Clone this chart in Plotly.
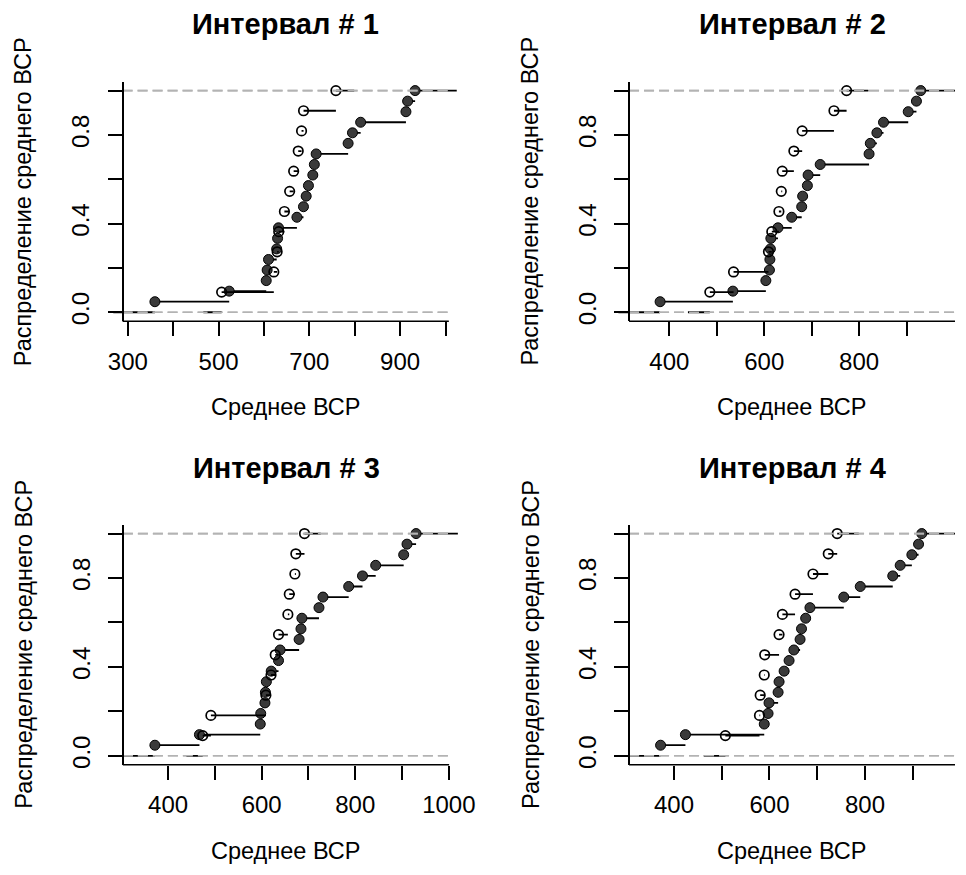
import numpy as np
import plotly.graph_objects as go

# ---------------- data ----------------
TITLES = ["Интервал # 1", "Интервал # 2", "Интервал # 3", "Интервал # 4"]
X_LABEL = "Среднее ВСР"
Y_LABEL = "Распределение среднего ВСР"

# filled points (first ECDF) and open points (second ECDF) per interval
int1_filled = [359.7, 523.4, 605, 607, 610, 628, 630, 632, 672.6, 687, 693, 698,
               707.6, 711, 715, 785.4, 795, 813, 912.8, 916.5, 933]
int1_open = [506.7, 621.7, 629, 632.5, 645, 656.6, 665.4, 675.5, 682.8, 687.2, 758.5]

int2_filled = [380.6, 534, 603.5, 611, 612, 613, 614, 629, 658, 679, 681, 691,
               692.5, 718, 821, 823.6, 837.5, 851.4, 903.5, 920.8, 929.9]
int2_open = [485.4, 535.4, 609, 616, 631, 636, 638, 662.5, 680, 747, 773.6]

int3_filled = [371.8, 467, 597, 598, 607, 608, 610, 620.4, 636, 639.4, 680, 684,
               686, 722.5, 731, 786, 815.5, 843.7, 903.5, 910.6, 930]
int3_open = [474, 491.5, 609, 620, 629, 636, 656, 659, 671, 673, 691.5]

int4_filled = [372, 424, 589, 597, 599, 618, 620, 630.6, 641, 651, 664, 667,
               675.7, 684.7, 755.5, 790, 858, 873.6, 898, 912, 918.8]
int4_open = [507.6, 579, 580.5, 589, 590, 620, 627, 653.5, 691, 723, 741.7]

int1_xticks = [300, 400, 500, 600, 700, 800, 900, 1000]
int1_xlabels = ["300", "", "500", "", "700", "", "900", ""]
int2_xticks = [400, 500, 600, 700, 800, 900]
int2_xlabels = ["400", "", "600", "", "800", ""]
int3_xticks = [400, 500, 600, 700, 800, 900, 1000]
int3_xlabels = ["400", "", "600", "", "800", "", "1000"]
int4_xticks = [400, 500, 600, 700, 800, 900]
int4_xlabels = ["400", "", "600", "", "800", ""]

y_ticks = [0.0, 0.2, 0.4, 0.6, 0.8, 1.0]
y_ticklabels = ["0.0", "", "0.4", "", "0.8", ""]

# ---------------- layout geometry (pixels) ----------------
W, H = 966, 875
BOX_W = 330
ROWS = {"top": (322.6, 82.1), "bottom": (768.2, 527.1)}  # px of y=-0.04 and y=1.04
PANELS = [
    dict(filled=int1_filled, opn=int1_open, xt=int1_xticks, xl=int1_xlabels,
         box_left=124.0, usr_l=288.5, scale=0.4591, row="top", dom=(98, 470)),
    dict(filled=int2_filled, opn=int2_open, xt=int2_xticks, xl=int2_xlabels,
         box_left=636.3, usr_l=315.2, scale=0.480, row="top", dom=(610, 966)),
    dict(filled=int3_filled, opn=int3_open, xt=int3_xticks, xl=int3_xlabels,
         box_left=124.3, usr_l=303.4, scale=0.4733, row="bottom", dom=(98, 470)),
    dict(filled=int4_filled, opn=int4_open, xt=int4_xticks, xl=int4_xlabels,
         box_left=636.3, usr_l=306.0, scale=0.4832, row="bottom", dom=(610, 966)),
]

FONT = "Liberation Sans, Arial, sans-serif"
TICK_SIZE = 24
LAB_SIZE = 23.5
TITLE_SIZE = 29
GRAY = "#b3b3b3"


def ecdf_parts(vals):
    xs = np.sort(np.asarray(vals, dtype=float))
    n = len(xs)
    ys = np.arange(1, n + 1) / n
    dr = max(0.08 * (xs[-1] - xs[0]), float(np.median(np.diff(xs))))
    left, right = xs[0] - 2 * dr, xs[-1] + 2 * dr
    sx, sy = [left, xs[0], None], [0, 0, None]
    for i in range(n):
        x_end = xs[i + 1] if i < n - 1 else right
        sx += [xs[i], x_end, None]
        sy += [ys[i], ys[i], None]
    return xs, ys, sx, sy


fig = go.Figure()
annotations = []
shapes = []

for k, p in enumerate(PANELS, start=1):
    xa = "x" if k == 1 else f"x{k}"
    ya = "y" if k == 1 else f"y{k}"
    usr_l = p["usr_l"]
    usr_r = usr_l + BOX_W / p["scale"]
    a, b = p["dom"]
    rng = [usr_l + (a - p["box_left"]) / p["scale"], usr_l + (b - p["box_left"]) / p["scale"]]
    yb_px, yt_px = ROWS[p["row"]]
    ydom = [1 - yb_px / H, 1 - yt_px / H]

    fx, fy, fsx, fsy = ecdf_parts(p["filled"])
    ox, oy, osx, osy = ecdf_parts(p["opn"])
    dash_x = [usr_l, usr_r, None, usr_l, usr_r]
    dash_y = [0, 0, None, 1, 1]

    common = dict(xaxis=xa, yaxis=ya, showlegend=False, hoverinfo="skip")
    fig.add_trace(go.Scatter(x=fsx, y=fsy, mode="lines",
                             line=dict(color="black", width=1.8), **common))
    fig.add_trace(go.Scatter(x=fx, y=fy, mode="markers", cliponaxis=False,
                             marker=dict(symbol="circle", size=10, color="#3a3a3a",
                                         line=dict(color="black", width=1)), **common))
    fig.add_trace(go.Scatter(x=dash_x, y=dash_y, mode="lines",
                             line=dict(color=GRAY, width=1.6, dash="10px,5px"), **common))
    fig.add_trace(go.Scatter(x=osx, y=osy, mode="lines",
                             line=dict(color="black", width=1.8), **common))
    fig.add_trace(go.Scatter(x=ox, y=oy, mode="markers", cliponaxis=False,
                             marker=dict(symbol="circle-open", size=9.5, color="black",
                                         line=dict(color="black", width=1.7)), **common))
    fig.add_trace(go.Scatter(x=dash_x, y=dash_y, mode="lines",
                             line=dict(color=GRAY, width=1.6, dash="10px,5px"), **common))

    fig.update_layout(**{
        ("xaxis" if k == 1 else f"xaxis{k}"): dict(
            domain=[a / W, b / W], range=rng, anchor=ya,
            showline=False, showgrid=False, zeroline=False,
            ticks="outside", ticklen=14, tickwidth=1.5, tickcolor="black",
            tickvals=p["xt"], ticktext=p["xl"],
            tickfont=dict(family=FONT, size=TICK_SIZE, color="black"),
            ticklabelstandoff=5,
        ),
        ("yaxis" if k == 1 else f"yaxis{k}"): dict(
            domain=ydom, range=[-0.04, 1.04], anchor="free",
            position=p["box_left"] / W,
            showline=True, linecolor="black", linewidth=1.5,
            showgrid=False, zeroline=False,
            ticks="outside", ticklen=14, tickwidth=1.5, tickcolor="black",
            tickvals=y_ticks, ticktext=y_ticklabels, tickangle=-90,
            tickfont=dict(family=FONT, size=TICK_SIZE, color="black"),
            ticklabelstandoff=9,
        ),
    })

    # bottom line of the L-shaped box
    shapes.append(dict(type="line", xref=xa, yref="paper", x0=usr_l, x1=usr_r,
                       y0=ydom[0], y1=ydom[0], line=dict(color="black", width=1.5)))

    cx = (p["box_left"] + BOX_W / 2) / W
    off = 0 if p["row"] == "top" else 446
    annotations.append(dict(text=TITLES[k - 1], x=cx, y=1 - (24 + off) / H,
                            xref="paper", yref="paper", showarrow=False,
                            xanchor="center", yanchor="middle",
                            font=dict(family=FONT, size=TITLE_SIZE, color="black", weight="bold")))
    annotations.append(dict(text=X_LABEL, x=cx, y=1 - (409 + off) / H,
                            xref="paper", yref="paper", showarrow=False,
                            xanchor="center", yanchor="middle",
                            font=dict(family=FONT, size=LAB_SIZE, color="black")))
    annotations.append(dict(text=Y_LABEL, x=(p["box_left"] - 100) / W,
                            y=1 - ((yb_px + yt_px) / 2) / H,
                            xref="paper", yref="paper", showarrow=False, textangle=-90,
                            xanchor="center", yanchor="middle",
                            font=dict(family=FONT, size=LAB_SIZE, color="black")))

fig.update_layout(
    width=W, height=H, margin=dict(l=0, r=0, t=0, b=0),
    paper_bgcolor="white", plot_bgcolor="white",
    annotations=annotations, shapes=shapes, showlegend=False,
)

fig.write_html("out.html", config={"displayModeBar": False},
               post_script="document.body.style.margin='0px';")
